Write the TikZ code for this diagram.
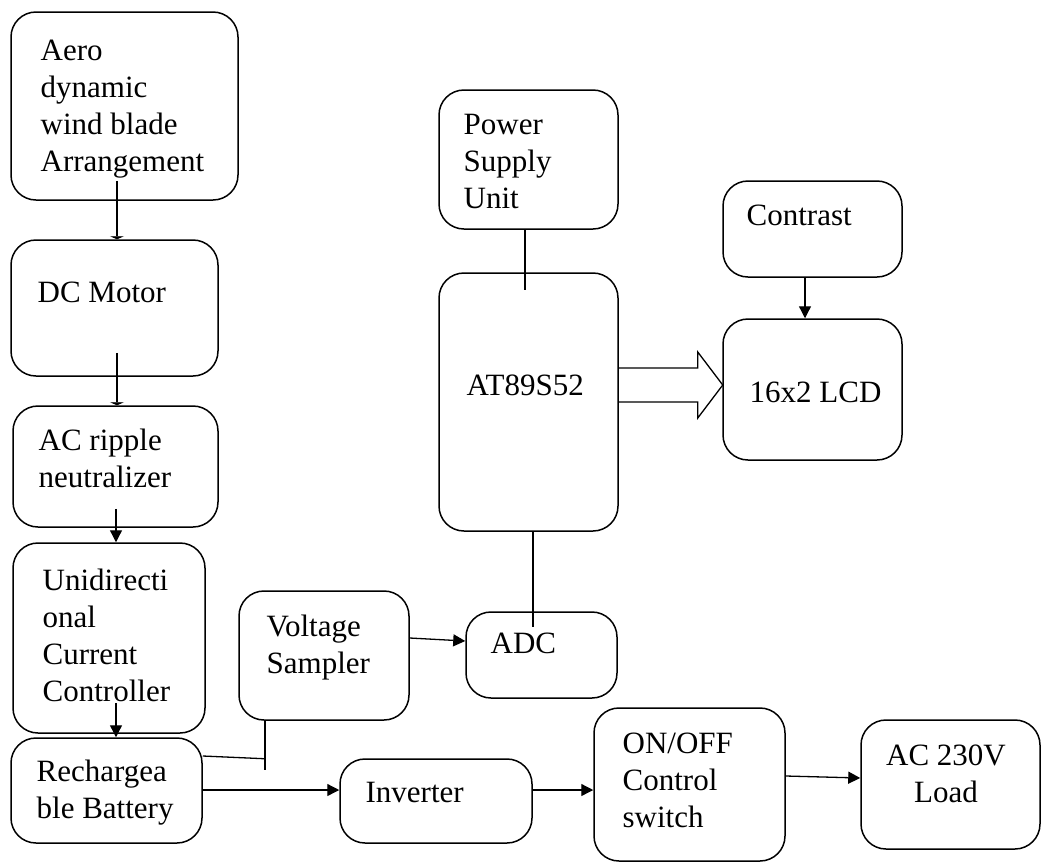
\documentclass[tikz,border=0pt]{standalone}
\usepackage{fontspec}
\setmainfont{Liberation Serif}
\usetikzlibrary{arrows.meta}
\begin{document}
\begin{tikzpicture}[x=1pt, y=-1pt, line width=1.3pt, >={Triangle[length=12pt,width=12pt]},
  blk/.style={draw, line width=1.5pt, rounded corners=25pt, inner sep=0pt},
  txt/.style={anchor=base west, align=left, inner sep=0pt, font=\fontsize{31}{37}\selectfont},
  flat/.style={-{Triangle[length=3pt,width=14pt]}}]
\useasboundingbox (0,0) rectangle (1042,863);
% blocks
\node[blk, minimum width=227pt, minimum height=188pt] (aero) at (124.5,106) {};
\node[blk, minimum width=207pt, minimum height=136pt] (dcm) at (114.5,308) {};
\node[blk, minimum width=205pt, minimum height=121pt] (acr) at (115.5,466.5) {};
\node[blk, minimum width=192pt, minimum height=190pt] (udc) at (109,638) {};
\node[blk, minimum width=191pt, minimum height=105pt] (bat) at (106.5,790.5) {};
\node[blk, minimum width=170pt, minimum height=129pt] (vs) at (324,655.5) {};
\node[blk, minimum width=151pt, minimum height=86pt] (adc) at (541.5,655) {};
\node[blk, minimum width=192pt, minimum height=84pt] (inv) at (436,801) {};
\node[blk, minimum width=191pt, minimum height=153pt] (sw) at (689.5,784.5) {};
\node[blk, minimum width=179pt, minimum height=129pt] (load) at (950.5,784.5) {};
\node[blk, minimum width=179pt, minimum height=139pt] (psu) at (528.5,159.5) {};
\node[blk, minimum width=179pt, minimum height=258pt] (mcu) at (528.5,402) {};
\node[blk, minimum width=179pt, minimum height=96pt] (con) at (812.5,229) {};
\node[blk, minimum width=179pt, minimum height=141pt] (lcd) at (812.5,389.5) {};
% labels (placed at the baseline of their last line)
\node[txt] (aerot) at (40,171) {Aero\\dynamic\\wind blade\\Arrangement};
\node[txt] (dcmt) at (37,302) {DC Motor};
\node[txt] (acrt) at (38,487) {AC ripple\\neutralizer};
\node[txt] (udct) at (42,701) {Unidirecti\\onal\\Current\\Controller};
\node[txt] (batt) at (36,818) {Rechargea\\ble Battery};
\node[txt] (vst) at (266,673) {Voltage\\Sampler};
\node[txt] (adct) at (490,653) {ADC};
\node[txt] (invt) at (365,802) {Inverter};
\node[txt] (swt) at (622,827) {ON/OFF\\Control\\switch};
\node[txt, anchor=base, align=center] (loadt) at (946,802) {AC 230V\\Load};
\node[txt] (psut) at (463,208) {Power\\Supply\\Unit};
\node[txt] (cont) at (746,225) {Contrast};
\node[txt] (mcut) at (466,395) {AT89S52};
\node[txt] (lcdt) at (749,402) {16x2 LCD};
% connectors
\draw[flat] ([xshift=-7.5pt,yshift=20pt]aero.south) -- ([xshift=2.5pt]dcm.north);
\draw[flat] ([xshift=2.5pt,yshift=24pt]dcm.south) -- ([xshift=1.5pt]acr.north);
\draw[->] ([xshift=0.5pt,yshift=19pt]acr.south) -- ([xshift=7pt]udc.north);
\draw[->] ([xshift=7pt,yshift=31pt]udc.south) -- ([xshift=9.5pt]bat.north);
\coordinate (tap) at ([xshift=-59pt,yshift=-38pt]vs.south);
\draw ([yshift=34.5pt]bat.east) -- (tap);
\draw ([xshift=-59pt]vs.south) -- ([yshift=-11pt]tap);
\draw[->] ([yshift=0.5pt]bat.east) -- ([yshift=11pt]inv.west);
\draw[->] ([yshift=17.5pt]vs.east) -- ([yshift=14pt]adc.west);
\draw ([xshift=4.5pt]mcu.south) -- ([xshift=-8.5pt,yshift=-16pt]adc.north);
\draw ([xshift=-3.5pt]psu.south) -- ([xshift=-3.5pt,yshift=-18pt]mcu.north);
\draw[->] ([xshift=-7.5pt]con.south) -- ([xshift=-7.5pt]lcd.north);
\draw[->] ([yshift=11pt]inv.east) -- ([yshift=-5.5pt]sw.west);
\draw[->] ([yshift=8.5pt]sw.east) -- ([yshift=6.5pt]load.west);
% data bus to the display
\draw ([yshift=34pt]mcu.east) -- ++(79,0) -- ++(0,-16) -- ++(25,33) -- ++(-25,33) -- ++(0,-16) -- ++(-79,0);
\end{tikzpicture}
\end{document}
